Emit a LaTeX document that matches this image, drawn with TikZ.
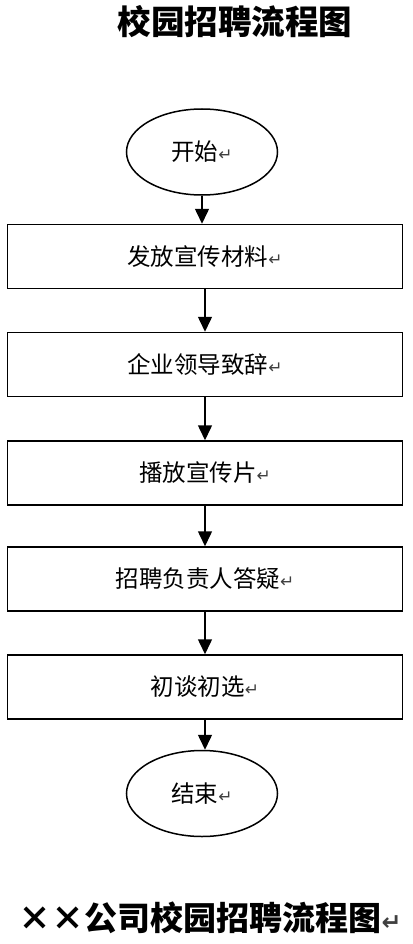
\documentclass[tikz,border=0pt]{standalone}
\usepackage{fontspec}
\setmainfont{Noto Sans CJK SC}
\newfontfamily\symfont{DejaVu Sans}
\usetikzlibrary{arrows.meta, shapes.geometric, math}
\newcommand\parmark{{\symfont\color{black!75}\scalebox{0.72}{↵}}}

\begin{document}
\begin{tikzpicture}[x=1pt,y=-1pt,
  stepbox/.style={draw, line width=1.5pt, minimum width=395pt, minimum height=64pt, inner sep=0pt, font=\fontsize{23.5}{23.5}\selectfont},
  endpoint/.style={draw, ellipse, line width=1.5pt, minimum width=151pt, minimum height=86pt, inner sep=0pt, font=\fontsize{23.5}{23.5}\selectfont},
  flow/.style={line width=1.5pt, -{Triangle[width=14pt,length=15pt]}}]
\tikzmath{
\cx=205;%box centre
\ex=202;%ellipse centre
}
\useasboundingbox (0,0) rectangle (412,944);
\fill[white] (0,0) rectangle (412,944);

\node[font=\bfseries\fontsize{33.5}{33.5}\selectfont] (title) at (235,22) {校园招聘流程图};

\node[endpoint] (start) at (\ex,152) {开始\parmark};
\node[stepbox] (box1) at (\cx,256.5) {发放宣传材料\parmark};
\node[stepbox] (box2) at (\cx,364.5) {企业领导致辞\parmark};
\node[stepbox] (box3) at (\cx,473) {播放宣传片\parmark};
\node[stepbox] (box4) at (\cx,579) {招聘负责人答疑\parmark};
\node[stepbox] (box5) at (\cx,687) {初谈初选\parmark};
\node[endpoint] (stop) at (\ex,793.5) {结束\parmark};

\foreach \a/\b in {start/box1, box1/box2, box2/box3, box3/box4, box4/box5, box5/stop}
  \draw[flow] (\a.south) -- (\a.south |- \b.north);

\node[font=\bfseries\fontsize{33}{33}\selectfont] (caption) at (210,918) {××公司校园招聘流程图\parmark};
\end{tikzpicture}
\end{document}
